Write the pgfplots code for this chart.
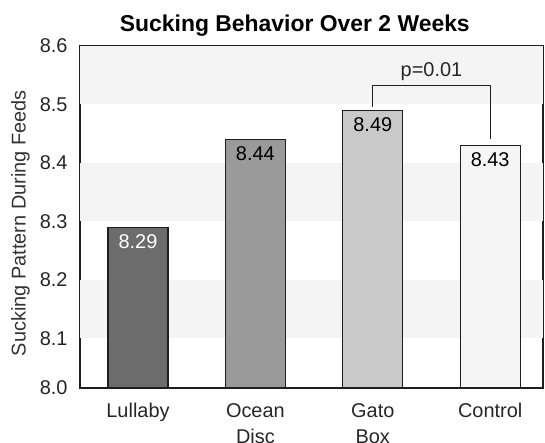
\documentclass[border=0pt]{standalone}
\usepackage{pgfplots}
\pgfplotsset{compat=1.18}
\usepackage{fontspec}
\setmainfont{Liberation Sans}
\definecolor{band}{HTML}{F4F4F4}
\definecolor{cA}{HTML}{6C6C6C}
\definecolor{cB}{HTML}{9A9A9A}
\definecolor{cC}{HTML}{C9C9C9}
\definecolor{cD}{HTML}{F5F5F5}
\definecolor{edge}{HTML}{1E1E1E}
\begin{document}
\begin{tikzpicture}[x=1bp,y=1bp]
\path[use as bounding box] (-80bp,-55bp) rectangle (465bp,388bp);
\begin{axis}[
  at={(0,0)}, anchor=south west,
  scale only axis, width=463bp, height=342bp,
  xmin=-0.494, xmax=3.45, ymin=8.015, ymax=8.6,
  axis line style={edge, line width=1.4pt},
  axis background/.style={fill=white},
  xtick={0,1,2,3},
  xticklabels={Lullaby,{Ocean\\Disc},{Gato\\Box},Control},
  xticklabel style={font=\fontsize{20}{26}\selectfont, align=center, text=black!85, yshift=-12bp},
  ytick={8.015,8.1,8.2,8.3,8.4,8.5,8.6},
  yticklabels={8.0,8.1,8.2,8.3,8.4,8.5,8.6},
  yticklabel style={font=\fontsize{20}{24}\selectfont, text=black!85, xshift=-9bp},
  major tick length=0pt,
  ylabel={Sucking Pattern During Feeds},
  ylabel style={font=\fontsize{20}{24}\selectfont, text=black!80, at={(-0.149,0.482)}, anchor=north, inner sep=0pt},
  title={Sucking Behavior Over 2 Weeks},
  title style={font=\fontsize{23}{27}\selectfont\bfseries, at={(0.464,1)}, anchor=base, yshift=8.5bp},
  ybar, bar width=60bp, bar shift=0pt,
  nodes near coords={\pgfmathprintnumber[fixed,fixed zerofill,precision=2,assume math mode=true]{\pgfplotspointmeta}},
  every node near coord/.append style={anchor=north, yshift=-3bp, font=\fontsize{20}{24}\selectfont},
  clip=false,
]
\fill[band] (axis cs:-0.494,8.5) rectangle (axis cs:3.45,8.6);
\fill[band] (axis cs:-0.494,8.3) rectangle (axis cs:3.45,8.4);
\fill[band] (axis cs:-0.494,8.1) rectangle (axis cs:3.45,8.2);
\addplot[draw=edge, line width=1.2pt, fill=cA, every node near coord/.append style={text=white}] coordinates {(0,8.29)};
\addplot[draw=edge, line width=1.2pt, fill=cB, every node near coord/.append style={text=black}] coordinates {(1,8.44)};
\addplot[draw=edge, line width=1.2pt, fill=cC, every node near coord/.append style={text=black}] coordinates {(2,8.49)};
\addplot[draw=edge, line width=1.2pt, fill=cD, every node near coord/.append style={text=black}] coordinates {(3,8.43)};
\draw[edge, line width=1.2pt] (axis cs:2,8.496) -- (axis cs:2,8.532) -- (axis cs:3,8.532) -- (axis cs:3,8.441);
\node[anchor=south, font=\fontsize{20}{24}\selectfont, text=black!85, yshift=1.5bp] at (axis cs:2.5,8.532) {p=0.01};
\end{axis}
\end{tikzpicture}
\end{document}
